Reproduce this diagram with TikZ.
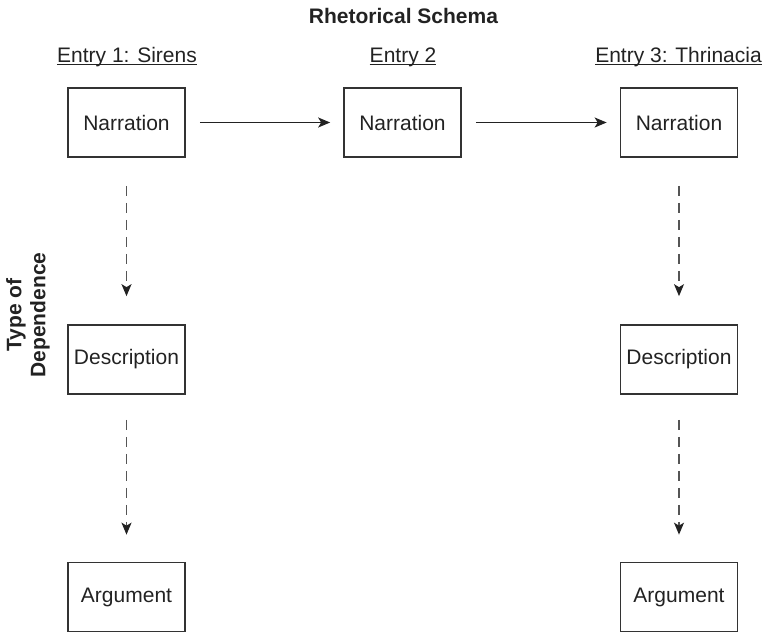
\documentclass[tikz,border=0pt]{standalone}
\usepackage{fontspec}
\setmainfont{Liberation Sans}
\usetikzlibrary{arrows.meta}
\definecolor{ink}{HTML}{222222}
\definecolor{boxline}{HTML}{333333}
\definecolor{dashgray}{HTML}{555555}
\begin{document}
\begin{tikzpicture}[x=1pt,y=1pt,
  font=\fontsize{21}{24}\selectfont, text=ink,
  stepbox/.style={draw=boxline, line width=1.7pt, minimum width=117pt, minimum height=69pt, inner sep=0pt},
  label text/.style={anchor=base, inner sep=0pt},
  solidarrow/.style={draw=ink, line width=1.5pt, -{Stealth[length=12pt,width=10pt,inset=3pt]}, shorten <=14pt, shorten >=13pt},
  dasharrow/.style={draw=dashgray, line width=1.5pt, dash pattern=on 10pt off 7pt, -{Stealth[length=12pt,width=10pt,inset=3pt,fill=ink,color=ink]}}
]
\useasboundingbox (0,0) rectangle (767,-632);

% title
\node[label text, font=\fontsize{21}{24}\selectfont\bfseries] (title) at (403.5,-23) {Rhetorical Schema};

% entry labels
\node[label text] (e1) at (127,-62) {Entry 1: Sirens};
\node[label text] (e2) at (403,-62) {Entry 2};
\node[label text] (e3) at (678.5,-62) {Entry 3: Thrinacia};
\foreach \e in {e1,e2,e3}
  \draw[ink, line width=1.2pt] ([yshift=-2.5pt]\e.base west) -- ([yshift=-2.5pt]\e.base east);

% side label
\node[rotate=90, align=center, inner sep=0pt, font=\fontsize{21}{24}\selectfont\bfseries] (tod) at (28,-315) {Type of\\Dependence};

% boxes
\node[stepbox] (n1) at (126.5,-122.5) {Narration};
\node[stepbox] (n2) at (402.5,-122.5) {Narration};
\node[stepbox] (n3) at (679,-122.5) {Narration};
\node[stepbox] (d1) at (126.5,-359.5) {Description};
\node[stepbox] (d3) at (679,-359.5) {Description};
\node[stepbox] (a1) at (126.5,-597) {Argument};
\node[stepbox] (a3) at (679,-597) {Argument};

% horizontal arrows
\draw[solidarrow] (n1) -- (n2);
\draw[solidarrow] (n2) -- (n3);

% dashed arrows
\draw[dasharrow, shorten <=28pt, shorten >=28pt] (n1) -- (d1);
\draw[dasharrow, shorten <=28pt, shorten >=28pt] (n3) -- (d3);
\draw[dasharrow, shorten <=25pt, shorten >=27pt] (d1) -- (a1);
\draw[dasharrow, shorten <=25pt, shorten >=27pt] (d3) -- (a3);
\end{tikzpicture}
\end{document}
